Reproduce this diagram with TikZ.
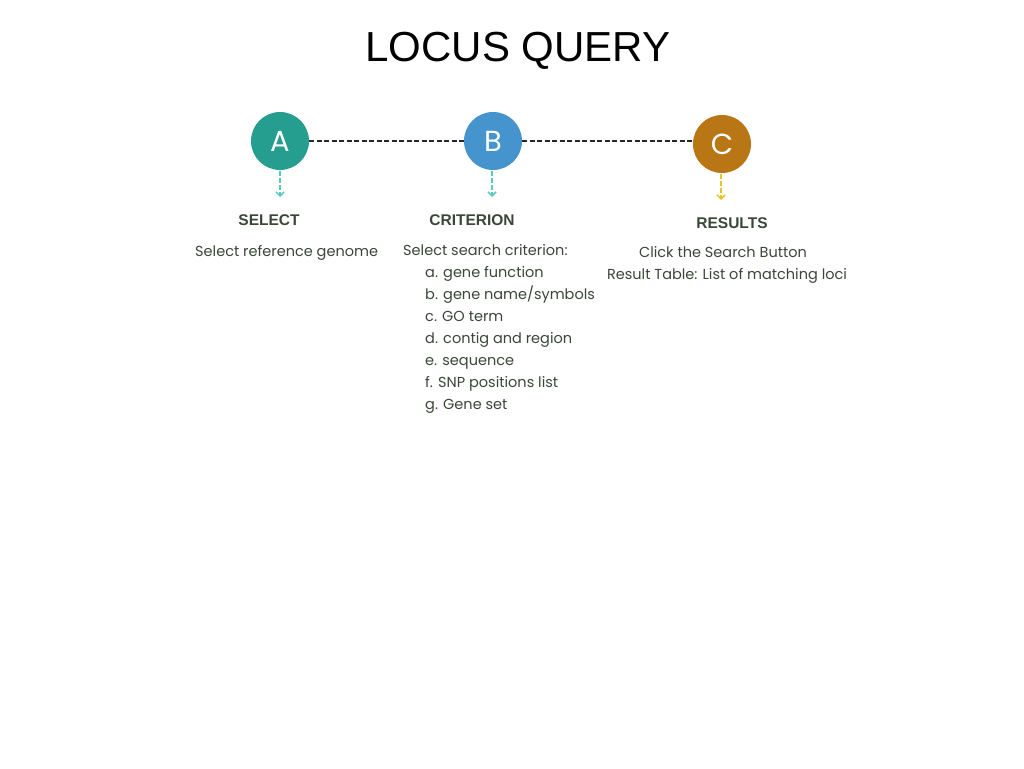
\documentclass[tikz,border=0pt]{standalone}
\usepackage{fontspec}
\usetikzlibrary{arrows.meta}
\setmainfont{Poppins}
\newfontfamily\headfont{Liberation Sans}
\begin{document}
\begin{tikzpicture}[x=1pt,y=-1pt,
  step circle/.style={circle,minimum size=58pt,inner sep=0pt,text=white,font=\fontsize{29}{29}\selectfont},
  link/.style={black!85,line width=2pt,dash pattern=on 5pt off 2.5pt},
  down/.style={line width=1.8pt,dash pattern=on 5pt off 2pt,-{Straight Barb[length=4pt,width=8pt,line width=1.5pt]}},
  heading/.style={text=bodytext,font=\headfont\bfseries\fontsize{15.5}{16}\selectfont},
  body/.style={text=bodytext,font=\fontsize{14.5}{22}\selectfont,inner sep=0pt},
]
\definecolor{bodytext}{HTML}{3A4738}
\definecolor{cA}{HTML}{259E90}
\definecolor{cB}{HTML}{4594CE}
\definecolor{cC}{HTML}{B97614}
\definecolor{arrowA}{HTML}{5CC9C0}
\definecolor{arrowC}{HTML}{E9C225}
\useasboundingbox[fill=white] (0,0) rectangle (1024,768);

\node[font=\headfont\fontsize{42}{42}\selectfont] (title) at (518,51) {LOCUS QUERY};

\node[step circle,fill=cA] (A) at (280,141) {A};
\node[step circle,fill=cB] (B) at (493,141) {B};
\node[step circle,fill=cC] (C) at (722,144) {C};

\draw[link] (A.east) -- (B.west);
\draw[link] (B.east) -- (B.east -| C.west);

\coordinate (aA) at (280,197);
\coordinate (aB) at (492,197);
\coordinate (aC) at (721,200);
\draw[down,arrowA] (280,171) -- (aA);
\draw[down,arrowA] (492,171) -- (aB);
\draw[down,arrowC] (721,174) -- (aC);

\node[heading] (hA) at (269,220) {SELECT};
\node[heading] (hB) at (472,220) {CRITERION};
\node[heading] (hC) at (732,223) {RESULTS};

\node[body,anchor=west] (tA) at (195,252.5) {Select reference genome};

\node[body,anchor=north west,align=left] (tB) at (403,244) {Select search criterion:\\
\hspace*{22pt}a. gene function\\
\hspace*{22pt}b. gene name/symbols\\
\hspace*{22pt}c. GO term\\
\hspace*{22pt}d. contig and region\\
\hspace*{22pt}e. sequence\\
\hspace*{22pt}f. SNP positions list\\
\hspace*{22pt}g. Gene set};

\node[body,anchor=north,align=center] (tC) at (727,246) {\hspace*{-8pt}Click the Search Button\\Result Table: List of matching loci};
\end{tikzpicture}
\end{document}
